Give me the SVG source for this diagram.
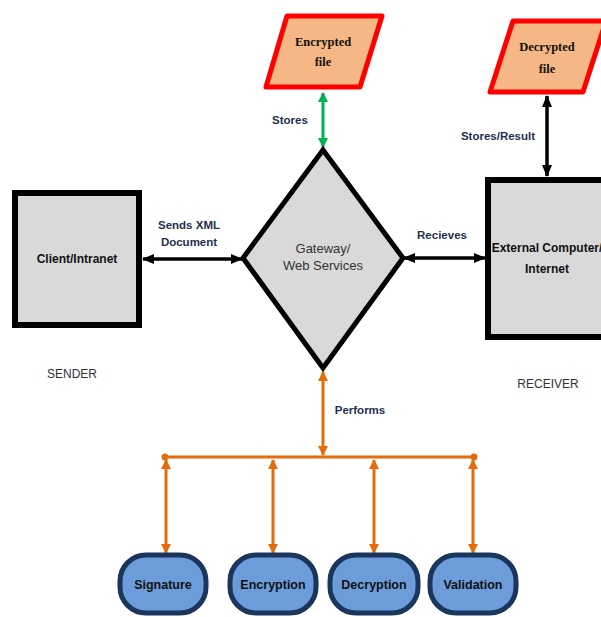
<svg xmlns="http://www.w3.org/2000/svg" width="601" height="617" viewBox="0 0 601 617">
<style>
.lbl{font-family:"Liberation Sans",Arial,sans-serif;font-weight:bold;font-size:11.5px;fill:#1F3050;}
.box{fill:#D9D9D9;stroke:#000;stroke-width:6;}
.file{fill:#F6B787;stroke:#FF0000;stroke-width:5;stroke-linejoin:round;}
.filetxt{font-family:"Liberation Serif","Times New Roman",serif;font-weight:bold;font-size:12.5px;fill:#111;text-anchor:middle;}
.oval{fill:#6C9DDA;stroke:#1B365D;stroke-width:5;}
.ovtxt{font-family:"Liberation Sans",Arial,sans-serif;font-weight:bold;font-size:12.5px;fill:#111;text-anchor:middle;}
.side{font-family:"Liberation Sans",Arial,sans-serif;font-size:12px;fill:#333;text-anchor:middle;}
.blk{stroke:#000;stroke-width:3.5;fill:none;}
.org{stroke:#E46C0A;stroke-width:3;fill:none;}
.grn{stroke:#00B050;stroke-width:3;fill:none;}
</style>
<defs>
<marker id="ab" viewBox="0 0 12 10" refX="11" refY="5" markerWidth="12" markerHeight="10" markerUnits="userSpaceOnUse" orient="auto-start-reverse"><path d="M0,0 L12,5 L0,10 z" fill="#000"/></marker>
<marker id="ao" viewBox="0 0 10 10" refX="9" refY="5" markerWidth="10" markerHeight="10" markerUnits="userSpaceOnUse" orient="auto-start-reverse"><path d="M0,0 L10,5 L0,10 z" fill="#E46C0A"/></marker>
<marker id="ag" viewBox="0 0 10 10" refX="9" refY="5" markerWidth="10" markerHeight="10" markerUnits="userSpaceOnUse" orient="auto-start-reverse"><path d="M0,0 L10,5 L0,10 z" fill="#00B050"/></marker>
</defs>

<g id="connectors">
<line class="grn" x1="323" y1="93" x2="323" y2="147" marker-start="url(#ag)" marker-end="url(#ag)"/>
<line class="blk" x1="547" y1="96" x2="547" y2="176" marker-start="url(#ab)" marker-end="url(#ab)"/>
<line class="blk" x1="143" y1="259" x2="242" y2="259" marker-start="url(#ab)" marker-end="url(#ab)"/>
<line class="blk" x1="404" y1="258" x2="485" y2="258" marker-start="url(#ab)" marker-end="url(#ab)"/>
<line class="org" x1="323" y1="372" x2="323" y2="455" marker-start="url(#ao)" marker-end="url(#ao)"/>
<line class="org" x1="165" y1="457" x2="474" y2="457"/>
<circle cx="165" cy="457" r="3.5" fill="#E46C0A"/>
<circle cx="474" cy="457" r="3.5" fill="#E46C0A"/>
<line class="org" x1="166" y1="460" x2="166" y2="553" marker-start="url(#ao)" marker-end="url(#ao)"/>
<line class="org" x1="273" y1="460" x2="273" y2="553" marker-start="url(#ao)" marker-end="url(#ao)"/>
<line class="org" x1="374" y1="460" x2="374" y2="553" marker-start="url(#ao)" marker-end="url(#ao)"/>
<line class="org" x1="473" y1="460" x2="473" y2="553" marker-start="url(#ao)" marker-end="url(#ao)"/>
<text class="lbl" x="290" y="124" text-anchor="middle">Stores</text>
<text class="lbl" x="498" y="140" text-anchor="middle">Stores/Result</text>
<text class="lbl" x="189" y="229" text-anchor="middle">Sends XML</text>
<text class="lbl" x="189" y="246" text-anchor="middle">Document</text>
<text class="lbl" x="442" y="239" text-anchor="middle">Recieves</text>
<text class="lbl" x="360" y="414" text-anchor="middle">Performs</text>
</g>

<g id="encrypted-file">
<polygon class="file" points="287,16 382,16 360,87 266,87"/>
<text class="filetxt" x="323" y="46">Encrypted</text>
<text class="filetxt" x="323" y="66">file</text>
</g>

<g id="decrypted-file">
<polygon class="file" points="513,21 606,21 583,92 490,92"/>
<text class="filetxt" x="547" y="51">Decrypted</text>
<text class="filetxt" x="547" y="73">file</text>
</g>

<g id="client">
<rect class="box" x="15" y="193" width="124" height="132"/>
<text class="ovtxt" x="77" y="263" style="font-size:12px">Client/Intranet</text>
</g>

<g id="gateway">
<polygon points="323,150 403,258 323,368 243,258" fill="#D9D9D9" stroke="#000" stroke-width="5" stroke-linejoin="miter"/>
<text class="side" x="323" y="253" style="font-size:13px">Gateway/</text>
<text class="side" x="323" y="270" style="font-size:13px">Web Services</text>
</g>

<g id="external">
<rect class="box" x="488" y="180" width="130" height="157"/>
<text class="ovtxt" x="547" y="252" style="font-size:12px">External Computer/</text>
<text class="ovtxt" x="547" y="273" style="font-size:12px">Internet</text>
</g>

<g id="sender"><text class="side" x="72" y="378">SENDER</text></g>
<g id="receiver"><text class="side" x="548" y="388">RECEIVER</text></g>

<g id="signature">
<rect class="oval" x="120" y="555" width="86" height="58" rx="26" ry="26"/>
<text class="ovtxt" x="163" y="589">Signature</text>
</g>
<g id="encryption">
<rect class="oval" x="230" y="555" width="86" height="58" rx="26" ry="26"/>
<text class="ovtxt" x="273" y="589">Encryption</text>
</g>
<g id="decryption">
<rect class="oval" x="330" y="555" width="88" height="58" rx="26" ry="26"/>
<text class="ovtxt" x="374" y="589">Decryption</text>
</g>
<g id="validation">
<rect class="oval" x="430" y="555" width="86" height="58" rx="26" ry="26"/>
<text class="ovtxt" x="473" y="589">Validation</text>
</g>
</svg>
